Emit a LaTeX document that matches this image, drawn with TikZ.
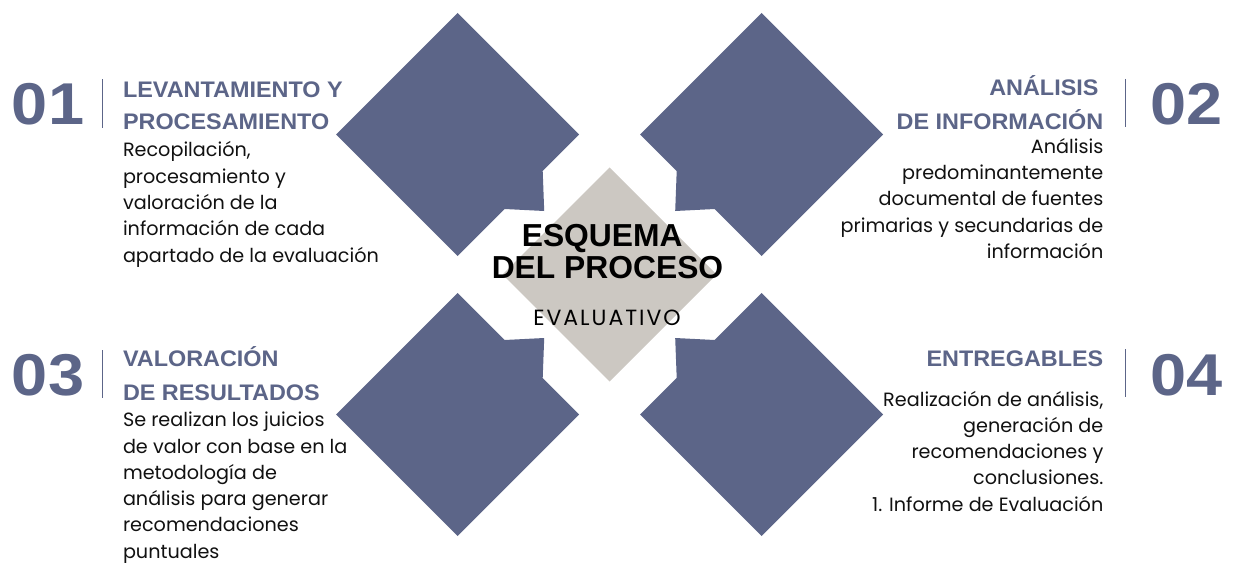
\documentclass[tikz,border=0pt]{standalone}
\usepackage{fontspec}
\setmainfont{Poppins}
\newfontfamily\headfont{Liberation Sans}[BoldFont={Liberation Sans Bold},BoldFeatures={FakeStretch=1.04}]
\newfontfamily\numfont{Liberation Sans}[BoldFont={Liberation Sans Bold},BoldFeatures={FakeStretch=1.1}]
\newfontfamily\titfont{Liberation Sans}[BoldFont={Liberation Sans Bold}]
\newfontfamily\evalfont{Poppins}[LetterSpace=9]
\definecolor{blu}{HTML}{5C6588}
\definecolor{gry}{HTML}{CCC8C2}
\definecolor{txt}{HTML}{111111}
\begin{document}
\begin{tikzpicture}[x=1pt,y=-1pt,
  every node/.style={inner sep=0pt, outer sep=0pt},
  num/.style={font=\numfont\bfseries\fontsize{59}{59}\selectfont, text=blu},
  head/.style={font=\headfont\bfseries\fontsize{22.5}{26}\selectfont, text=blu},
  body/.style={font=\fontsize{19.2}{26}\selectfont, text=txt},
  bar/.style={draw=blu, line width=1.5pt},
  tit/.style={font=\titfont\bfseries\fontsize{31.8}{32}\selectfont, text=black},
  sub/.style={font=\evalfont\fontsize{22}{24}\selectfont, text=black}]
\useasboundingbox[fill=white] (0,0) rectangle (1233,564);
% four blue diamonds with tabs
\foreach \sx/\sy/\cx/\cy in {1/1/457.7/134.5, -1/1/761.7/134.5, 1/-1/457.7/414.5, -1/-1/761.7/414.5}{
  \begin{scope}[shift={(\cx,\cy)}, xscale=\sx, yscale=\sy]
    \fill[blu] (0,-121.5) -- (121.5,0) -- (85,36.5) -- (86.5,76.5) -- (47,74.5) -- (0,121.5) -- (-121.5,0) -- cycle;
  \end{scope}
}
% central grey diamond
\fill[gry] (609.7,167.5) -- (716.7,274.5) -- (609.7,381.5) -- (502.7,274.5) -- cycle;
\node[tit, anchor=base] (t1) at (602.2,246.7) {ESQUEMA};
\node[tit, anchor=base] (t2) at (607.5,278.3) {DEL PROCESO};
\node[sub, anchor=base] (t3) at (607,325) {EVALUATIVO};
% numbers and bars
\node[num, anchor=base west] (n1) at (12,125) {01};
\node[num, anchor=base west] (n2) at (1150,125) {02};
\node[num, anchor=base west] (n3) at (12,395) {03};
\node[num, anchor=base west] (n4) at (1150,395) {04};
\coordinate (b1a) at (102.5,79.5); \coordinate (b1b) at (102.5,128.3);
\coordinate (b2a) at (1125.7,79); \coordinate (b2b) at (1125.7,126.7);
\coordinate (b3a) at (102.5,350); \coordinate (b3b) at (102.5,398);
\coordinate (b4a) at (1125.7,349); \coordinate (b4b) at (1125.7,396.7);
\draw[bar] (b1a) -- (b1b);
\draw[bar] (b2a) -- (b2b);
\draw[bar] (b3a) -- (b3b);
\draw[bar] (b4a) -- (b4b);
% block 1
\node[head, anchor=base west] (h1a) at (123,97.7) {LEVANTAMIENTO Y};
\node[head, anchor=base west] (h1b) at (123,129.7) {PROCESAMIENTO};
\foreach \t [count=\i] in {{Recopilación,}, procesamiento y, valoración de la, información de cada, apartado de la evaluación}
  \node[body, anchor=base west] (p1\i) at (123,157+26.3*\i-26.3) {\t};
% block 2
\node[head, anchor=base east] (h2a) at (1098.5,96) {ANÁLISIS};
\node[head, anchor=base east] (h2b) at (1103.3,130) {DE INFORMACIÓN};
\foreach \t [count=\i] in {Análisis, predominantemente, documental de fuentes, primarias y secundarias de, información}
  \node[body, anchor=base east] (p2\i) at (1103.3,153.3+26.3*\i-26.3) {\t};
% block 3
\node[head, anchor=base west] (h3a) at (123,366.7) {VALORACIÓN};
\node[head, anchor=base west] (h3b) at (123,400.7) {DE RESULTADOS};
\foreach \t [count=\i] in {Se realizan los juicios, de valor con base en la, metodología de, análisis para generar, recomendaciones, puntuales}
  \node[body, anchor=base west] (p3\i) at (123,426.7+26.3*\i-26.3) {\t};
% block 4
\node[head, anchor=base east] (h4a) at (1103.3,366) {ENTREGABLES};
\foreach \t [count=\i] in {{Realización de análisis,}, generación de, recomendaciones y, conclusiones., 1. Informe de Evaluación}
  \node[body, anchor=base east] (p4\i) at (1103.3,406+26.3*\i-26.3) {\t};
\end{tikzpicture}
\end{document}
